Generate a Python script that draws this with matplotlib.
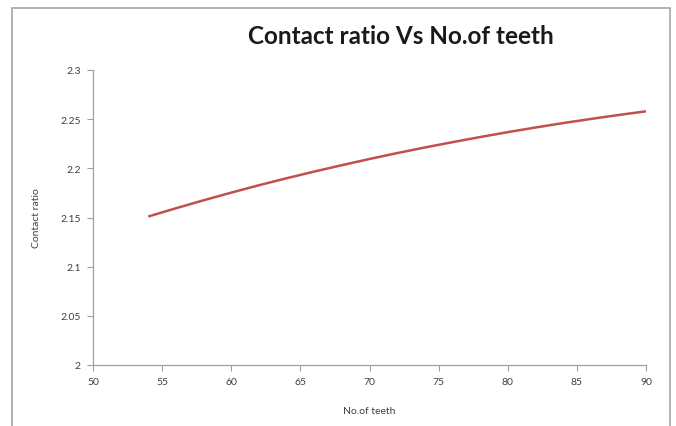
"""Contact ratio against number of teeth, drawn as a single smooth line."""

import matplotlib.pyplot as plt
from matplotlib.patches import Rectangle

plt.rcParams["font.family"] = ["Lato", "DejaVu Sans"]

teeth = [54, 56, 58, 60, 62, 64, 66, 68, 70, 72, 74, 76, 78, 80, 82, 84, 86, 88, 90]
contact_ratio = [2.151, 2.1594, 2.1675, 2.1753, 2.1828, 2.1899, 2.1967, 2.2032, 2.2095,
                 2.2155, 2.2212, 2.2266, 2.2318, 2.2368, 2.2415, 2.2460, 2.2502, 2.2542, 2.2580]

x_ticks = [50, 55, 60, 65, 70, 75, 80, 85, 90]
y_ticks = [2.0, 2.05, 2.1, 2.15, 2.2, 2.25, 2.3]
y_tick_labels = ["2", "2.05", "2.1", "2.15", "2.2", "2.25", "2.3"]

fig = plt.figure(figsize=(6.76, 4.27), dpi=100)

# chart-area border
fig.patches.append(Rectangle((12 / 676, -0.05), 658 / 676, 1 - 9 / 427 + 0.05,
                             transform=fig.transFigure, fill=False,
                             edgecolor="#a6a6a6", linewidth=1.2))

ax = fig.add_axes([93 / 676, 1 - 366 / 427, (646 - 93) / 676, (366 - 71) / 427])
ax.plot(teeth, contact_ratio, color="#c0504d", linewidth=1.8, solid_capstyle="butt")

ax.set_xlim(50, 90)
ax.set_ylim(2.0, 2.3)
ax.set_xticks(x_ticks)
ax.set_yticks(y_ticks)
ax.set_yticklabels(y_tick_labels)

for side in ("top", "right"):
    ax.spines[side].set_visible(False)
for side in ("left", "bottom"):
    ax.spines[side].set_color("#a0a0a0")
    ax.spines[side].set_linewidth(0.9)
ax.tick_params(direction="out", length=4, width=0.8, color="#a0a0a0",
               labelsize=7.5, labelcolor="#404040", pad=5)

ax.set_xlabel("No.of teeth", fontsize=7.5, color="#404040", labelpad=14)
ax.set_ylabel("Contact ratio", fontsize=7.5, color="#404040", labelpad=14)

fig.text(401 / 676, 1 - 36 / 427, "Contact ratio Vs No.of teeth",
         ha="center", va="center", fontsize=17.5, fontweight="bold", color="#1a1a1a")

fig.savefig("out.png", dpi=100)
